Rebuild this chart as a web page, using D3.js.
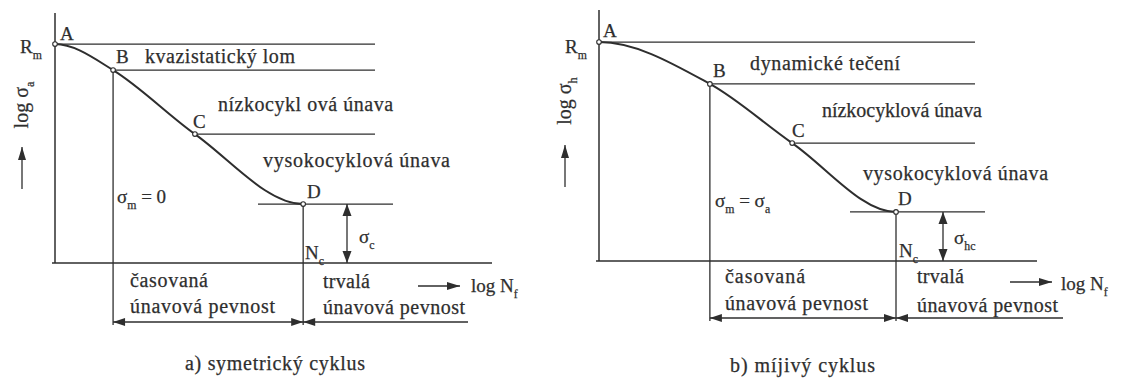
<!DOCTYPE html>
<html><head><meta charset="utf-8">
<script src="https://cdn.jsdelivr.net/npm/d3@7"></script>
<style>
html,body{margin:0;padding:0;background:#fff;}
svg{display:block;}
text{font-family:"Liberation Serif","DejaVu Serif",serif;}
</style></head><body>
<svg id="c" width="1124" height="383"></svg>
<script>
// Wöhler curve, points A–D (log N and log σ in relative units)
const pointNames = ["A", "B", "C", "D"];
const logN_sym = [0, 1.32, 3.18, 5.64];
const logS_sym = [9.95, 8.77, 5.86, 2.68];
const logN_pul = [0, 2.52, 4.39, 6.75];
const logS_pul = [9.95, 8.05, 5.36, 2.23];
const regions_sym = ["kvazistatický lom", "nízkocykl ová únava", "vysokocyklová únava"];
const regions_pul = ["dynamické tečení", "nízkocyklová únava", "vysokocyklová únava"];
const lifeLabels = ["časovaná", "únavová pevnost", "trvalá", "únavová pevnost"];
const captions = ["a) symetrický cyklus", "b) míjivý cyklus"];

const INK = "#2e2e2e";
const FONT = "'Liberation Serif', 'DejaVu Serif', serif";
const svg = d3.select("#c");

// ---------- helpers ----------
function line(g, x1, y1, x2, y2, w = 1.3) {
  g.append("line").attr("x1", x1).attr("y1", y1).attr("x2", x2).attr("y2", y2)
    .attr("stroke", INK).attr("stroke-width", w);
}
// filled arrowhead with its tip at (x,y); dir = "l","r","u","d"
function head(g, x, y, dir, len = 12, half = 4) {
  let p;
  if (dir === "r") p = [[x, y], [x - len, y - half], [x - len, y + half]];
  if (dir === "l") p = [[x, y], [x + len, y - half], [x + len, y + half]];
  if (dir === "u") p = [[x, y], [x - half, y + len], [x + half, y + len]];
  if (dir === "d") p = [[x, y], [x - half, y - len], [x + half, y - len]];
  g.append("path").attr("d", "M" + p.join("L") + "Z").attr("fill", INK);
}
function styleText(t, size) {
  return t.attr("font-size", size).attr("font-family", FONT).attr("fill", INK)
    .attr("stroke", INK).attr("stroke-width", 0.25);
}
// plain text; when a width is given, letter spacing is widened to fill it
function txt(g, x, y, s, size, width) {
  const t = styleText(g.append("text").attr("x", x).attr("y", y), size).text(s);
  if (width) {
    const w = t.node().getComputedTextLength();
    const ls = (width - w) / Math.max(1, s.length - 1);
    t.attr("letter-spacing", ls.toFixed(2));
  }
  return t;
}
// text with subscripts: parts = [[string, isSubscript], ...]
function rich(g, x, y, parts, size, anchor) {
  const t = styleText(g.append("text").attr("x", x).attr("y", y), size);
  if (anchor) t.attr("text-anchor", anchor);
  let down = false;
  parts.forEach(([s, isSub]) => {
    const ts = t.append("tspan").text(s);
    if (isSub) {
      ts.attr("font-size", size * 0.62);
      if (!down) { ts.attr("dy", size * 0.3); down = true; }
    } else if (down) { ts.attr("dy", -size * 0.3); down = false; }
  });
  return t;
}
// smooth Hermite curve with horizontal tangents at both ends
function curvePath(pts) {
  const n = pts.length, m = new Array(n).fill(0);
  for (let i = 1; i < n - 1; i++) {
    const s0 = (pts[i][1] - pts[i - 1][1]) / (pts[i][0] - pts[i - 1][0]);
    const s1 = (pts[i + 1][1] - pts[i][1]) / (pts[i + 1][0] - pts[i][0]);
    m[i] = (s0 + s1) / 2;
  }
  const p = d3.path();
  p.moveTo(pts[0][0], pts[0][1]);
  for (let i = 0; i < n - 1; i++) {
    const [x0, y0] = pts[i], [x1, y1] = pts[i + 1], h = (x1 - x0) / 3;
    p.bezierCurveTo(x0 + h, y0 + m[i] * h, x1 - h, y1 - m[i + 1] * h, x1, y1);
  }
  return p.toString();
}

// ---------- one diagram ----------
function panel(cfg) {
  const g = svg.append("g");
  const x = d3.scaleLinear().domain([0, 10]).range([cfg.ox, cfg.ox + 440]);
  const y = d3.scaleLinear().domain([0, 10]).range([cfg.oy, cfg.oy - 220]);
  const pts = cfg.logN.map((n, i) => [x(n), y(cfg.logS[i])]);
  const [A, B, C, D] = pts;
  const L = cfg.L;

  // axes
  line(g, x(0), L.yTop, x(0), cfg.oy, 1.5);
  line(g, x(0) - 3, cfg.oy, L.xEnd, cfg.oy, 1.5);

  // level lines through A, B, C and D
  line(g, A[0], A[1], L.refEnd, A[1]);
  line(g, B[0], B[1], L.refEnd, B[1]);
  line(g, C[0], C[1], L.refEnd, C[1]);
  line(g, L.dFrom, D[1], L.dTo, D[1]);

  // verticals at B and D down to the dimension line
  line(g, B[0], B[1], B[0], L.dimY + 3);
  line(g, D[0], D[1], D[0], L.dimY + 3);

  // dimension line: finite life | endurance
  line(g, B[0], L.dimY, L.dimEnd, L.dimY);
  head(g, B[0], L.dimY, "l");
  head(g, D[0], L.dimY, "r");
  head(g, D[0], L.dimY, "l");

  // fatigue limit double arrow
  line(g, L.sigX, D[1], L.sigX, cfg.oy);
  head(g, L.sigX, D[1], "u", 12, 4.5);
  head(g, L.sigX, cfg.oy, "d", 12, 4.5);

  // log N arrow
  line(g, L.nArrow[0], L.nArrow[2], L.nArrow[1], L.nArrow[2]);
  head(g, L.nArrow[1], L.nArrow[2], "r", 13, 4);

  // y label arrow
  line(g, L.yArrow[0], L.yArrow[1], L.yArrow[0], L.yArrow[2]);
  head(g, L.yArrow[0], L.yArrow[1], "u", 13, 4);

  // the curve
  g.append("path").attr("d", curvePath(pts)).attr("fill", "none")
    .attr("stroke", INK).attr("stroke-width", 2);
  g.selectAll("circle.pt").data(pts).join("circle").attr("class", "pt")
    .attr("cx", d => d[0]).attr("cy", d => d[1]).attr("r", 2.3)
    .attr("fill", "#fff").attr("stroke", INK).attr("stroke-width", 1.1);

  // point letters
  pointNames.forEach((nm, i) => txt(g, L.ptLab[i][0], L.ptLab[i][1], nm, 19));

  // region names
  cfg.regions.forEach((r, i) => txt(g, L.reg[i][0], L.reg[i][1], r, 20, L.reg[i][2]));

  // Rm
  rich(g, L.rm[0], L.rm[1], [["R", false], ["m", true]], 19);
  // mean stress note
  rich(g, L.mean[0], L.mean[1], cfg.meanParts, 19);
  // Nc
  rich(g, L.nc[0], L.nc[1], [["N", false], ["c", true]], 19);
  // fatigue limit symbol
  rich(g, L.sig[0], L.sig[1], cfg.sigParts, 19);
  // log N_f
  rich(g, L.logN[0], L.logN[1], [["log N", false], ["f", true]], 19);
  // y axis label
  rich(g, 0, 0, cfg.yParts, 20, "middle")
    .attr("transform", `translate(${L.yLab[0]},${L.yLab[1]}) rotate(-90)`);

  // life regions under the axis
  lifeLabels.forEach((s, i) => txt(g, L.life[i][0], L.life[i][1], s, 20, L.life[i][2]));

  // caption
  txt(g, L.cap[0], L.cap[1], cfg.caption, 20, L.cap[2]);
}

panel({
  ox: 55, oy: 263, logN: logN_sym, logS: logS_sym, regions: regions_sym,
  caption: captions[0],
  meanParts: [["σ", false], ["m", true], [" = 0", false]],
  sigParts: [["σ", false], ["c", true]],
  yParts: [["log σ", false], ["a", true]],
  L: {
    yTop: 13, xEnd: 492, refEnd: 375, dFrom: 258, dTo: 393,
    dimY: 322, dimEnd: 468, sigX: 347, nArrow: [418, 460, 286], yArrow: [22, 147, 189],
    ptLab: [[60, 40], [116, 63], [193, 128], [307, 198]],
    reg: [[145, 63, 150], [218, 111, 175], [263, 167, 187]],
    rm: [20, 53], mean: [117, 203], nc: [305, 259], sig: [359, 243],
    logN: [471, 292], yLab: [28, 105],
    life: [[130, 287, 78], [130, 313, 145], [323, 288, 47], [323, 314, 142]],
    cap: [185, 370, 180]
  }
});

panel({
  ox: 599, oy: 261, logN: logN_pul, logS: logS_pul, regions: regions_pul,
  caption: captions[1],
  meanParts: [["σ", false], ["m", true], [" = σ", false], ["a", true]],
  sigParts: [["σ", false], ["hc", true]],
  yParts: [["log σ", false], ["h", true]],
  L: {
    yTop: 10, xEnd: 1037, refEnd: 975, dFrom: 850, dTo: 985,
    dimY: 318, dimEnd: 1063, sigX: 943, nArrow: [1010, 1052, 282], yArrow: [565, 145, 187],
    ptLab: [[603, 37], [713, 77], [792, 137], [898, 205]],
    reg: [[750, 70, 150], [822, 117, 160], [863, 180, 185]],
    rm: [565, 53], mean: [715, 207], nc: [899, 257], sig: [954, 244],
    logN: [1061, 290], yLab: [571, 101],
    life: [[725, 283, 80], [725, 310, 143], [917, 283, 47], [917, 312, 141]],
    cap: [730, 372, 145]
  }
});
</script>
</body></html>
